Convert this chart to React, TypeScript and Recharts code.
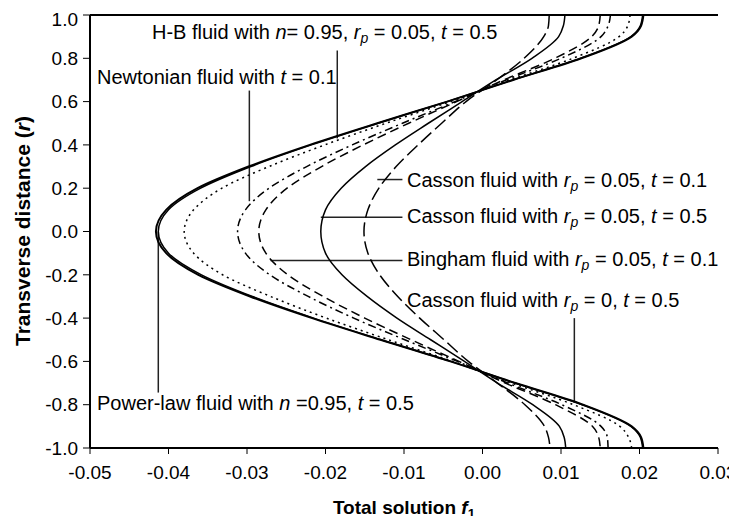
import { LineChart, Line, XAxis, YAxis, ReferenceLine } from "recharts"

const FONT = "'Liberation Sans', Arial, sans-serif"

// transverse distance r, top to bottom
const rValues = [1, 0.95, 0.9, 0.8, 0.7, 0.6, 0.5, 0.4, 0.3, 0.2, 0.1, 0, -0.1, -0.2, -0.3, -0.4, -0.5, -0.6, -0.7, -0.8, -0.9, -0.95, -1]

// total solution f1, one value per r
const powerLaw = [0.0205, 0.0202, 0.019, 0.0126, 0.0039, -0.0045, -0.0134, -0.022, -0.0298, -0.0363, -0.0403, -0.0416, -0.0403, -0.0362, -0.0296, -0.0217, -0.013, -0.0041, 0.0042, 0.0128, 0.019, 0.0202, 0.0205]
const cassonR0 = [0.0204, 0.0201, 0.0189, 0.0125, 0.0038, -0.0045, -0.0133, -0.0218, -0.0295, -0.0359, -0.04, -0.0413, -0.04, -0.0358, -0.0293, -0.0215, -0.0129, -0.004, 0.0041, 0.0127, 0.0189, 0.0201, 0.0204]
const hbFluid = [0.0188, 0.0185, 0.0174, 0.0115, 0.0035, -0.0041, -0.0123, -0.0201, -0.0272, -0.0332, -0.0368, -0.038, -0.0368, -0.0331, -0.027, -0.0199, -0.012, -0.0038, 0.0037, 0.0116, 0.0175, 0.0186, 0.019]
const newtonian = [0.0163, 0.016, 0.0151, 0.01, 0.003, -0.0035, -0.0102, -0.0166, -0.0224, -0.0272, -0.0302, -0.0312, -0.0302, -0.0271, -0.0222, -0.0164, -0.0099, -0.0032, 0.0032, 0.0101, 0.0151, 0.0159, 0.016]
const bingham = [0.015, 0.0148, 0.0139, 0.0092, 0.0027, -0.0033, -0.0094, -0.0152, -0.0205, -0.0249, -0.0276, -0.0285, -0.0276, -0.0248, -0.0203, -0.015, -0.0091, -0.003, 0.0029, 0.0093, 0.014, 0.0148, 0.015]
const cassonT05 = [0.0105, 0.0103, 0.0097, 0.0063, 0.0017, -0.0026, -0.0069, -0.0111, -0.0149, -0.018, -0.02, -0.0206, -0.02, -0.0179, -0.0147, -0.0109, -0.0066, -0.0023, 0.0019, 0.0064, 0.0098, 0.0104, 0.0106]
const cassonT01 = [0.0085, 0.0084, 0.0078, 0.0053, 0.0018, -0.0021, -0.0052, -0.0082, -0.011, -0.0132, -0.0146, -0.0151, -0.0146, -0.0131, -0.0108, -0.008, -0.0049, -0.0018, 0.0019, 0.0054, 0.0079, 0.0084, 0.0086]

const xTicks = [-0.05, -0.04, -0.03, -0.02, -0.01, 0, 0.01, 0.02, 0.03]
const yTicks = [-1, -0.8, -0.6, -0.4, -0.2, 0, 0.2, 0.4, 0.6, 0.8, 1]

// leader lines from the notes to the curves, in data units
const pointers = [
  [{ x: -0.0185, y: 0.836 }, { x: -0.0185, y: 0.43 }],
  [{ x: -0.0297, y: 0.651 }, { x: -0.0297, y: 0.14 }],
  [{ x: -0.0134, y: 0.24 }, { x: -0.0102, y: 0.24 }],
  [{ x: -0.0206, y: 0.066 }, { x: -0.0102, y: 0.066 }],
  [{ x: -0.027, y: -0.134 }, { x: -0.0102, y: -0.134 }],
  [{ x: 0.0117, y: -0.4 }, { x: 0.0117, y: -0.79 }],
  [{ x: -0.0413, y: 0 }, { x: -0.0413, y: -0.744 }],
]

const data = rValues.map((r, i) => ({
  r,
  powerLaw: powerLaw[i],
  cassonR0: cassonR0[i],
  hbFluid: hbFluid[i],
  newtonian: newtonian[i],
  bingham: bingham[i],
  cassonT05: cassonT05[i],
  cassonT01: cassonT01[i],
}))

const Note = ({ left, top, children }: { left: number; top: number; children: any }) => (
  <div style={{ position: "absolute", left, top, fontSize: 20, lineHeight: "20px", whiteSpace: "nowrap", fontFamily: FONT, color: "#000" }}>
    {children}
  </div>
)

const Sub = ({ children }: { children: any }) => (
  <sub style={{ fontSize: "0.7em", verticalAlign: "-0.3em", lineHeight: 0 }}>{children}</sub>
)

const rp = <><i>r</i><Sub><i>p</i></Sub></>

export default function App() {
  return (
    <div style={{ position: "relative", width: 729, height: 508, fontFamily: FONT }}>
      <LineChart width={729} height={508} data={data} layout="vertical" margin={{ top: 7, right: 19, left: 20, bottom: 28 }} style={{ overflow: "visible" }}>
        <XAxis
          type="number"
          domain={[-0.05, 0.03]}
          ticks={xTicks}
          allowDataOverflow
          tickFormatter={(v: number) => v.toFixed(2)}
          tick={{ fill: "#000", fontSize: 19, fontFamily: FONT }}
          tickSize={6}
          tickMargin={12}
          height={40}
          axisLine={{ stroke: "#000", strokeWidth: 2 }}
          tickLine={{ stroke: "#000" }}
        />
        <YAxis
          type="number"
          dataKey="r"
          domain={[-1, 1]}
          ticks={yTicks}
          reversed
          allowDataOverflow
          tickFormatter={(v: number) => v.toFixed(1)}
          tick={{ fill: "#000", fontSize: 19, fontFamily: FONT }}
          tickSize={7}
          tickMargin={5}
          width={62}
          axisLine={{ stroke: "#000", strokeWidth: 2 }}
          tickLine={{ stroke: "#000" }}
        />
        <ReferenceLine y={1} stroke="#000" strokeWidth={2} />
        {pointers.map((seg, i) => (
          <ReferenceLine key={i} segment={seg} stroke="#222" strokeWidth={1.5} />
        ))}
        <Line type="monotone" dataKey="powerLaw" stroke="#000" strokeWidth={2} dot={false} isAnimationActive={false} />
        <Line type="monotone" dataKey="cassonR0" stroke="#000" strokeWidth={1.5} dot={false} isAnimationActive={false} />
        <Line type="monotone" dataKey="hbFluid" stroke="#000" strokeWidth={1.5} strokeDasharray="2 4" dot={false} isAnimationActive={false} />
        <Line type="monotone" dataKey="newtonian" stroke="#000" strokeWidth={1.5} strokeDasharray="8 4 2 4" dot={false} isAnimationActive={false} />
        <Line type="monotone" dataKey="bingham" stroke="#000" strokeWidth={1.5} strokeDasharray="9 5" dot={false} isAnimationActive={false} />
        <Line type="monotone" dataKey="cassonT05" stroke="#000" strokeWidth={1.5} dot={false} isAnimationActive={false} />
        <Line type="monotone" dataKey="cassonT01" stroke="#000" strokeWidth={1.5} strokeDasharray="14 5" dot={false} isAnimationActive={false} />
      </LineChart>

      <Note left={144} top={14}>H-B fluid with <i>n</i>= 0.95, {rp} = 0.05, <i>t</i> = 0.5</Note>
      <Note left={89} top={59}>Newtonian fluid with <i>t</i> = 0.1</Note>
      <Note left={399} top={162}>Casson fluid with {rp} = 0.05, <i>t</i> = 0.1</Note>
      <Note left={399} top={198}>Casson fluid with {rp} = 0.05, <i>t</i> = 0.5</Note>
      <Note left={399} top={241}>Bingham fluid with {rp} = 0.05, <i>t</i> = 0.1</Note>
      <Note left={399} top={282}>Casson fluid with {rp} = 0, <i>t</i> = 0.5</Note>
      <Note left={89} top={385}>Power-law fluid with <i>n</i> =0.95, <i>t</i> = 0.5</Note>

      <div style={{ position: "absolute", left: 15, top: 223, transform: "translate(-50%, -50%) rotate(-90deg)", fontSize: 21, fontWeight: "bold", whiteSpace: "nowrap" }}>
        Transverse distance (<i>r</i>)
      </div>
      <div style={{ position: "absolute", left: 396, top: 500, transform: "translate(-50%, -50%)", fontSize: 19, fontWeight: "bold", whiteSpace: "nowrap" }}>
        Total solution <i>f</i><Sub>1</Sub>
      </div>
    </div>
  )
}
